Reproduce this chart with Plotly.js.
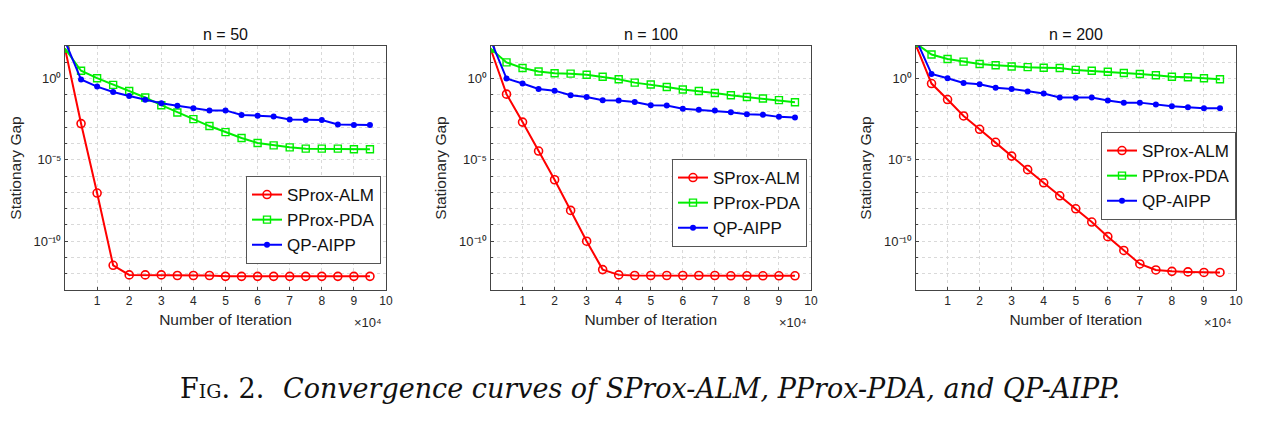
<!DOCTYPE html>
<html>
<head>
<meta charset="utf-8">
<script src="https://cdn.plot.ly/plotly-3.0.1.min.js"></script>
<style>
  html, body { margin: 0; padding: 0; background: #ffffff; }
  #chart { width: 1280px; height: 427px; }
</style>
</head>
<body>
<div id="chart"></div>
<script>
// Iteration counts (x 10^4)
const iterations = [0, 0.5, 1, 1.5, 2, 2.5, 3, 3.5, 4, 4.5, 5, 5.5, 6, 6.5, 7, 7.5, 8, 8.5, 9, 9.5];

const panelTitles = ["n = 50", "n = 100", "n = 200"];
const seriesNames = ["SProx-ALM", "PProx-PDA", "QP-AIPP"];

// n = 50
const sprox50 = [70, 1.7e-3, 9.1e-8, 3.3e-12, 8.5e-13, 8.5e-13, 8.5e-13, 7.8e-13, 7.8e-13, 7.8e-13, 6.9e-13, 6.9e-13, 6.9e-13, 6.9e-13, 6.9e-13, 6.9e-13, 6.9e-13, 6.9e-13, 6.9e-13, 6.9e-13];
const pprox50 = [70, 3.0, 1.05, 0.41, 0.17, 0.068, 0.023, 8.1e-3, 3.2e-3, 1.2e-3, 5.1e-4, 2.2e-4, 1.1e-4, 7.8e-5, 5.9e-5, 4.9e-5, 4.9e-5, 4.9e-5, 4.5e-5, 4.5e-5];
const qp50    = [200, 0.87, 0.32, 0.15, 0.085, 0.049, 0.030, 0.021, 0.015, 0.011, 0.011, 5.8e-3, 5.2e-3, 4.6e-3, 3.0e-3, 2.8e-3, 2.8e-3, 1.5e-3, 1.4e-3, 1.4e-3];

// n = 100
const sprox100 = [70, 0.11, 2.1e-3, 3.5e-5, 6.0e-7, 7.8e-9, 1.0e-10, 1.8e-12, 8.5e-13, 7.8e-13, 7.8e-13, 7.8e-13, 7.8e-13, 7.8e-13, 7.8e-13, 7.5e-13, 7.5e-13, 7.5e-13, 7.5e-13, 7.5e-13];
const pprox100 = [70, 9.8, 4.4, 2.7, 2.1, 2.0, 1.7, 1.3, 0.91, 0.56, 0.43, 0.30, 0.21, 0.17, 0.13, 0.093, 0.074, 0.059, 0.047, 0.035];
const qp100    = [250, 1.0, 0.49, 0.23, 0.18, 0.093, 0.074, 0.047, 0.044, 0.036, 0.023, 0.022, 0.014, 0.012, 0.011, 8.5e-3, 6.3e-3, 6.0e-3, 4.4e-3, 4.0e-3];

// n = 200
const sprox200 = [130, 0.49, 0.051, 5.0e-3, 7.6e-4, 1.2e-4, 1.7e-5, 2.5e-6, 3.9e-7, 6.2e-8, 9.8e-9, 1.5e-9, 1.9e-10, 2.7e-11, 4.0e-12, 1.7e-12, 1.4e-12, 1.3e-12, 1.2e-12, 1.2e-12];
const pprox200 = [150, 30, 16, 11, 7.9, 6.6, 5.5, 5.0, 4.6, 4.4, 3.4, 3.0, 2.6, 2.2, 1.9, 1.6, 1.3, 1.2, 1.05, 0.91];
const qp200    = [300, 1.9, 1.05, 0.54, 0.45, 0.27, 0.23, 0.16, 0.12, 0.068, 0.065, 0.068, 0.044, 0.033, 0.033, 0.025, 0.020, 0.017, 0.015, 0.015];

const xTickVals = [1, 2, 3, 4, 5, 6, 7, 8, 9, 10];
const yTickVals = [1e0, 1e-5, 1e-10];
const yTickText = ["10\u2070", "10\u207B\u2075", "10\u207B\u00B9\u2070"];
const yGridVals = [1e2, 1e1, 1e0, 1e-1, 1e-2, 1e-3, 1e-4, 1e-5, 1e-6, 1e-7, 1e-8, 1e-9, 1e-10, 1e-11, 1e-12, 1e-13];
const xScaleText = "\u00d710\u2074";
const captionLabel = "Fig. 2.";
const captionText = "Convergence curves of SProx-ALM, PProx-PDA, and QP-AIPP.";

const panels = [
  [sprox50, pprox50, qp50],
  [sprox100, pprox100, qp100],
  [sprox200, pprox200, qp200]
];

const domainsX = [[65/1280, 386/1280], [490.5/1280, 811/1280], [915.5/1280, 1236/1280]];
const domainY = [1 - 290/427, 1 - 46/427];
const legendPos = [[246/1280, 1 - 176/427], [672/1280, 1 - 159/427], [1101/1280, 1 - 132/427]];

const styles = [
  { color: "#ff0000", marker: { symbol: "circle-open", size: 8, line: { width: 1.6, color: "#ff0000" } } },
  { color: "#00ee00", marker: { symbol: "square-open", size: 7, line: { width: 1.4, color: "#00ee00" } } },
  { color: "#0000ff", marker: { symbol: "circle", size: 6, line: { width: 0 } } }
];

const traces = [];
const layout = {
  width: 1280, height: 427,
  margin: { l: 0, r: 0, t: 0, b: 0 },
  paper_bgcolor: "#ffffff",
  plot_bgcolor: "#ffffff",
  font: { family: "Liberation Sans, Arial, sans-serif", color: "#262626" },
  showlegend: true,
  annotations: []
};

panels.forEach((series, p) => {
  const sfx = p === 0 ? "" : String(p + 1);
  const legendId = "legend" + sfx;
  series.forEach((vals, s) => {
    traces.push({
      x: iterations, y: vals,
      type: "scatter", mode: "lines+markers",
      name: seriesNames[s],
      xaxis: "x" + sfx, yaxis: "y" + sfx,
      legend: legendId,
      line: { color: styles[s].color, width: 2 },
      marker: Object.assign({ color: styles[s].color }, styles[s].marker)
    });
  });
  layout["xaxis" + sfx] = {
    domain: domainsX[p],
    anchor: "y" + sfx,
    range: [0, 10],
    tickmode: "array",
    tickvals: xTickVals,
    ticktext: xTickVals.map(String),
    ticks: "inside", ticklen: 3, tickcolor: "#444",
    tickfont: { size: 12, color: "#262626" },
    showgrid: true, gridcolor: "#d9d9d9", griddash: "dot", gridwidth: 1,
    showline: true, linecolor: "#444", linewidth: 1, mirror: true,
    zeroline: false,
    title: { text: "Number of Iteration", font: { size: 15.5, color: "#262626" }, standoff: 6 }
  };
  layout["yaxis" + sfx] = {
    domain: domainY,
    anchor: "x" + sfx,
    type: "log",
    range: [-13, 2],
    tickmode: "array",
    tickvals: yTickVals,
    ticktext: yTickText,
    ticks: "inside", ticklen: 3, tickcolor: "#444",
    tickfont: { size: 13, color: "#262626" },
    showgrid: true, gridcolor: "#d9d9d9", griddash: "dot", gridwidth: 1,
    minor: {
      tickmode: "array", tickvals: yGridVals,
      ticks: "inside", ticklen: 2, tickcolor: "#444",
      showgrid: true, gridcolor: "#d9d9d9", griddash: "dot", gridwidth: 1
    },
    showline: true, linecolor: "#444", linewidth: 1, mirror: true,
    zeroline: false,
    title: { text: "Stationary Gap", font: { size: 15.5, color: "#262626" }, standoff: 8 }
  };
  layout[legendId] = {
    x: legendPos[p][0], y: legendPos[p][1],
    xanchor: "left", yanchor: "top",
    bgcolor: "#ffffff", bordercolor: "#555", borderwidth: 1,
    font: { size: 17, color: "#111" },
    tracegroupgap: 0, itemwidth: 30
  };
  layout.annotations.push({
    text: panelTitles[p], xref: "paper", yref: "paper",
    x: (domainsX[p][0] + domainsX[p][1]) / 2, y: 1 - 35/427,
    xanchor: "center", yanchor: "middle", showarrow: false,
    font: { size: 16, color: "#111" }
  });
  layout.annotations.push({
    text: xScaleText, xref: "paper", yref: "paper",
    x: domainsX[p][1] - 2/1280, y: 1 - 322/427,
    xanchor: "right", yanchor: "middle", showarrow: false,
    font: { size: 13, color: "#262626" }
  });
});

layout.annotations.push({
  text: captionLabel, xref: "paper", yref: "paper",
  x: 178/1280, y: 1 - 388/427,
  xanchor: "left", yanchor: "middle", showarrow: false,
  font: { size: 27, family: "DejaVu Serif, Liberation Serif, serif", color: "#111", variant: "small-caps" }
});
layout.annotations.push({
  text: captionText, xref: "paper", yref: "paper",
  x: 701.5/1280, y: 1 - 388/427,
  xanchor: "center", yanchor: "middle", showarrow: false,
  font: { size: 27, family: "DejaVu Serif, Liberation Serif, serif", color: "#111", style: "italic" }
});

Plotly.newPlot("chart", traces, layout, { staticPlot: true, displayModeBar: false });
</script>
</body>
</html>
